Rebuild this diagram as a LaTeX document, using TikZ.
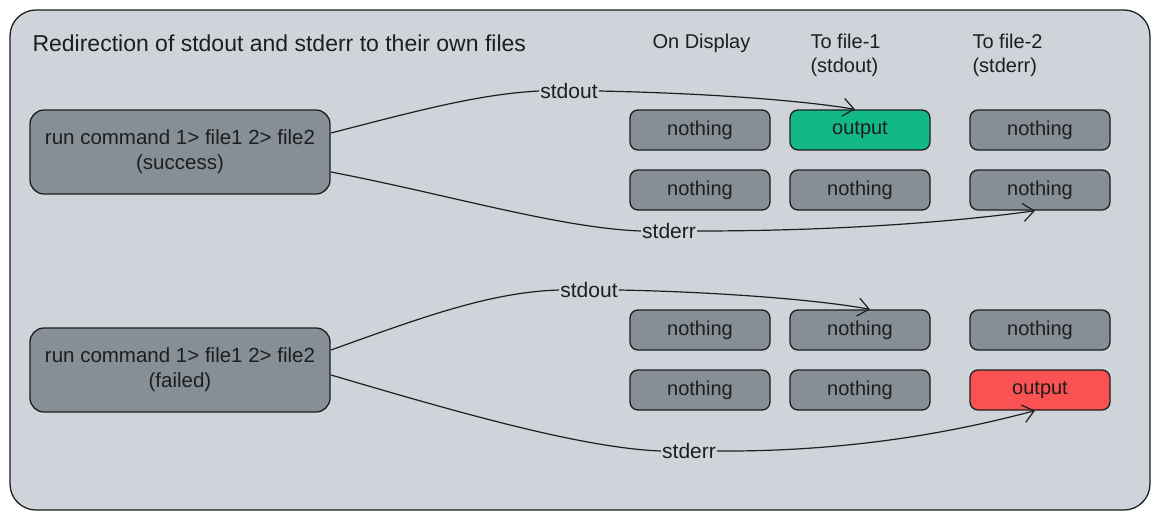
\documentclass[tikz,border=0pt]{standalone}
\usepackage{fontspec}
\setmainfont{Liberation Sans}
\usetikzlibrary{arrows.meta}
\definecolor{frameBg}{RGB}{206,212,218}
\definecolor{boxGray}{RGB}{134,142,150}
\definecolor{okGreen}{RGB}{18,184,134}
\definecolor{errRed}{RGB}{250,82,82}
\definecolor{inkc}{RGB}{30,30,30}
\tikzset{
  txt/.style={font=\fontsize{20}{24}\selectfont, text=inkc},
  cmdbox/.style={txt, font=\fontsize{20.5}{25}\selectfont, draw=inkc, line width=1.3pt, fill=boxGray, rounded corners=14pt,
     minimum width=300pt, minimum height=84pt, align=center, inner sep=0pt},
  cell/.style={txt, draw=inkc, line width=1.3pt, fill=boxGray, rounded corners=8pt,
     minimum width=140pt, minimum height=40pt, inner sep=0pt},
  lab/.style={txt, font=\fontsize{21}{25}\selectfont, inner sep=1pt, anchor=center},
  conn/.style={draw=inkc, line width=1.2pt},
  arr/.style={conn, -{Straight Barb[length=11pt,width=18pt]}},
}
\begin{document}
\begin{tikzpicture}[x=1pt,y=-1pt]
\useasboundingbox (0,0) rectangle (1160,520);
\draw[draw=inkc, line width=1.3pt, fill=frameBg, rounded corners=26pt] (10,10) rectangle (1150,510);

\node[txt, font=\fontsize{23}{27}\selectfont, anchor=west] (title) at (29,43) {Redirection of stdout and stderr to their own files};
\node[txt, anchor=west] (hdisp) at (649,43) {On Display};
\node[txt, anchor=west, align=left] (hf1) at (807,55) {To file-1\\(stdout)};
\node[txt, anchor=west, align=left] (hf2) at (969,55) {To file-2\\(stderr)};

\node[cmdbox] (s1) at (180,152) {run command 1> file1 2> file2\\(success)};
\node[cmdbox] (f1) at (180,370) {run command 1> file1 2> file2\\(failed)};

% success rows
\node[cell] (a11) at (700,130) {nothing};
\node[cell, fill=okGreen] (a12) at (860,130) {output};
\node[cell] (a13) at (1040,130) {nothing};
\node[cell] (a21) at (700,190) {nothing};
\node[cell] (a22) at (860,190) {nothing};
\node[cell] (a23) at (1040,190) {nothing};
% failed rows
\node[cell] (b11) at (700,330) {nothing};
\node[cell] (b12) at (860,330) {nothing};
\node[cell] (b13) at (1040,330) {nothing};
\node[cell] (b21) at (700,390) {nothing};
\node[cell] (b22) at (860,390) {nothing};
\node[cell, fill=errRed] (b23) at (1040,390) {output};

% labels
\node[lab] (ls1) at (569,91) {stdout};
\node[lab] (le1) at (669,231) {stderr};
\node[lab] (ls2) at (589,290) {stdout};
\node[lab] (le2) at (689,451) {stderr};

\coordinate (s1o) at (331,133);
\coordinate (s1e) at (331,172);
\coordinate (f1o) at (331,350);
\coordinate (f1e) at (331,375);

% success connectors
\draw[conn] (s1o) .. controls (420,110) and (480,94) .. (ls1.west);
\draw[arr] (ls1.east) .. controls (700,93) and (800,100) .. ([xshift=-5pt]a12.north);
\draw[conn] (s1e) .. controls (450,195) and (560,228) .. (le1.west);
\draw[arr] (le1.east) .. controls (850,231) and (970,220) .. ([xshift=-5pt]a23.south);
% failed connectors
\draw[conn] (f1o) .. controls (420,318) and (490,292) .. (ls2.west);
\draw[arr] (ls2.east) .. controls (720,292) and (820,300) .. ([xshift=10pt]b12.north);
\draw[conn] (f1e) .. controls (450,410) and (580,448) .. (le2.west);
\draw[arr] (le2.east) .. controls (870,452) and (980,425) .. ([xshift=-5pt]b23.south);
\end{tikzpicture}
\end{document}
